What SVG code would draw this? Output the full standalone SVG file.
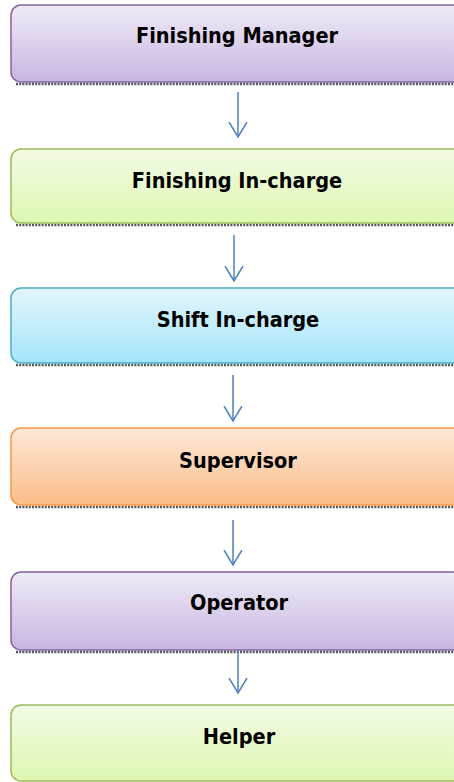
<svg xmlns="http://www.w3.org/2000/svg" width="454" height="782" viewBox="0 0 454 782">
  <style>
    .box { stroke-width: 1.5; }
    .shadow { fill: none; stroke: #555; stroke-width: 2.5; stroke-dasharray: 2 1.2; }
    .label { font-family: "DejaVu Sans Condensed", "DejaVu Sans", "Liberation Sans", sans-serif; font-stretch: condensed; font-weight: bold; font-size: 21.5px; fill: #000; text-anchor: middle; }
    .conn { stroke: #4f81bd; stroke-width: 1.5; fill: none; }
  </style>
  <defs>
    <linearGradient id="gPurple" x1="0" y1="0" x2="0" y2="1">
      <stop offset="0" stop-color="#efeaf7"/>
      <stop offset="1" stop-color="#c8b6e0"/>
    </linearGradient>
    <linearGradient id="gGreen" x1="0" y1="0" x2="0" y2="1">
      <stop offset="0" stop-color="#f3fbe6"/>
      <stop offset="1" stop-color="#dcf7b0"/>
    </linearGradient>
    <linearGradient id="gBlue" x1="0" y1="0" x2="0" y2="1">
      <stop offset="0" stop-color="#e2f6fc"/>
      <stop offset="1" stop-color="#a4e5f9"/>
    </linearGradient>
    <linearGradient id="gOrange" x1="0" y1="0" x2="0" y2="1">
      <stop offset="0" stop-color="#fee8d8"/>
      <stop offset="1" stop-color="#fbbd88"/>
    </linearGradient>
    <!-- open V head, drawn along +x so orient="auto" turns it to the line direction -->
    <marker id="arrowOpen" viewBox="0 0 16 20" refX="15" refY="10" markerWidth="16" markerHeight="20" markerUnits="userSpaceOnUse" orient="auto">
      <path d="M0,1 L15,10 L0,19" fill="none" stroke="#4f81bd" stroke-width="1.5"/>
    </marker>
  </defs>

  <g id="finishing-manager">
    <path class="shadow" d="M16,84 H454"/>
    <rect class="box" x="11" y="5" width="452" height="77" rx="10" fill="url(#gPurple)" stroke="#8064a2"/>
    <text class="label" x="237" y="43">Finishing Manager</text>
  </g>

  <g id="finishing-incharge">
    <path class="shadow" d="M16,225 H454"/>
    <rect class="box" x="11" y="149" width="452" height="74" rx="10" fill="url(#gGreen)" stroke="#9bbb59"/>
    <text class="label" x="237" y="188">Finishing In-charge</text>
  </g>

  <g id="shift-incharge">
    <path class="shadow" d="M16,365 H454"/>
    <rect class="box" x="11" y="288" width="452" height="75" rx="10" fill="url(#gBlue)" stroke="#4bacc6"/>
    <text class="label" x="238" y="327">Shift In-charge</text>
  </g>

  <g id="supervisor">
    <path class="shadow" d="M16,507 H454"/>
    <rect class="box" x="11" y="428" width="452" height="77" rx="10" fill="url(#gOrange)" stroke="#f79646"/>
    <text class="label" x="238" y="468">Supervisor</text>
  </g>

  <g id="operator">
    <path class="shadow" d="M16,652 H454"/>
    <rect class="box" x="11" y="572" width="452" height="78" rx="10" fill="url(#gPurple)" stroke="#8064a2"/>
    <text class="label" x="239" y="610">Operator</text>
  </g>

  <g id="helper">
    <rect class="box" x="11" y="705" width="452" height="76" rx="10" fill="url(#gGreen)" stroke="#9bbb59"/>
    <text class="label" x="239" y="744">Helper</text>
  </g>

  <g id="connectors">
    <line class="conn" x1="238" y1="92" x2="238" y2="137" marker-end="url(#arrowOpen)"/>
    <line class="conn" x1="234" y1="235" x2="234" y2="281" marker-end="url(#arrowOpen)"/>
    <line class="conn" x1="233" y1="375" x2="233" y2="421" marker-end="url(#arrowOpen)"/>
    <line class="conn" x1="233" y1="520" x2="233" y2="565" marker-end="url(#arrowOpen)"/>
    <line class="conn" x1="238" y1="650" x2="238" y2="693" marker-end="url(#arrowOpen)"/>
  </g>
</svg>
